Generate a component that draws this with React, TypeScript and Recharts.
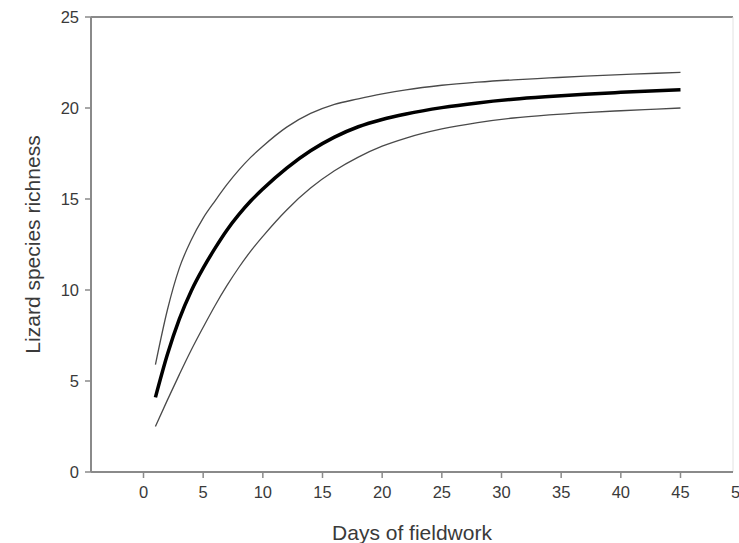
import React from 'react';
import { LineChart, Line, XAxis, YAxis, ReferenceLine, Label } from 'recharts';

const days = [1, 2, 3, 4, 5, 6, 7, 8, 9, 10, 12, 14, 16, 18, 20, 22, 25, 28, 31, 34, 37, 40, 43, 45];
const meanRichness = [4.1, 6.45, 8.4, 9.95, 11.2, 12.3, 13.3, 14.15, 14.9, 15.55, 16.7, 17.65, 18.4, 18.97, 19.37, 19.67, 20.02, 20.28, 20.48, 20.63, 20.76, 20.86, 20.95, 21.0];
const upperRichness = [5.9, 8.9, 11.2, 12.75, 13.95, 14.9, 15.8, 16.6, 17.3, 17.9, 18.95, 19.7, 20.2, 20.5, 20.77, 21.0, 21.25, 21.42, 21.55, 21.65, 21.75, 21.83, 21.91, 21.96];
const lowerRichness = [2.5, 3.95, 5.35, 6.7, 7.95, 9.15, 10.25, 11.25, 12.15, 12.95, 14.4, 15.6, 16.55, 17.3, 17.9, 18.35, 18.85, 19.2, 19.45, 19.62, 19.75, 19.85, 19.94, 20.0];

const xTicks = [0, 5, 10, 15, 20, 25, 30, 35, 40, 45, 50];
const yTicks = [0, 5, 10, 15, 20, 25];
const xLabel = 'Days of fieldwork';
const yLabel = 'Lizard species richness';

const data = days.map((d, i) => ({
  day: d,
  mean: meanRichness[i],
  upper: upperRichness[i],
  lower: lowerRichness[i],
}));

const FONT = 'Liberation Sans, Arial, sans-serif';
const AXIS = '#8a8a8a';
const TEXT = '#3a3a3a';

export default function App() {
  return (
    <div style={{ position: 'absolute', left: 0, top: 0, width: 739, height: 543, background: '#fff' }}>
      <LineChart
        width={739}
        height={543}
        data={data}
        margin={{ top: 17, right: 6, bottom: 0, left: 0 }}
        style={{ fontFamily: FONT }}
      >
        <XAxis
          type="number"
          dataKey="day"
          domain={[-4.4, 49.4]}
          ticks={xTicks}
          interval={0}
          height={71}
          stroke={AXIS}
          strokeWidth={2}
          tickSize={6}
          tickMargin={8}
          tick={{ fill: TEXT, fontSize: 16.5, fontFamily: FONT }}
          tickLine={{ stroke: AXIS, strokeWidth: 1.5 }}
        >
          <Label value={xLabel} position="insideBottom" offset={3} fill={TEXT} fontSize={21} fontFamily={FONT} />
        </XAxis>
        <YAxis
          type="number"
          domain={[0, 25]}
          ticks={yTicks}
          interval={0}
          width={91}
          stroke={AXIS}
          strokeWidth={2}
          tickSize={6}
          tickMargin={6}
          tick={{ fill: TEXT, fontSize: 16.5, fontFamily: FONT }}
          tickLine={{ stroke: AXIS, strokeWidth: 1.5 }}
        >
          <Label
            value={yLabel}
            angle={-90}
            position="insideLeft"
            offset={33}
            fill={TEXT}
            fontSize={21}
            fontFamily={FONT}
            style={{ textAnchor: 'middle' }}
          />
        </YAxis>
        <ReferenceLine y={25} stroke={AXIS} strokeWidth={2} ifOverflow="visible" />
        <ReferenceLine x={49.4} stroke="#e2e2e2" strokeWidth={1} ifOverflow="visible" />
        <Line type="monotone" dataKey="upper" stroke="#4a4a4a" strokeWidth={1.3} dot={false} isAnimationActive={false} />
        <Line type="monotone" dataKey="lower" stroke="#4a4a4a" strokeWidth={1.3} dot={false} isAnimationActive={false} />
        <Line type="monotone" dataKey="mean" stroke="#000" strokeWidth={3.5} dot={false} isAnimationActive={false} />
      </LineChart>
    </div>
  );
}
